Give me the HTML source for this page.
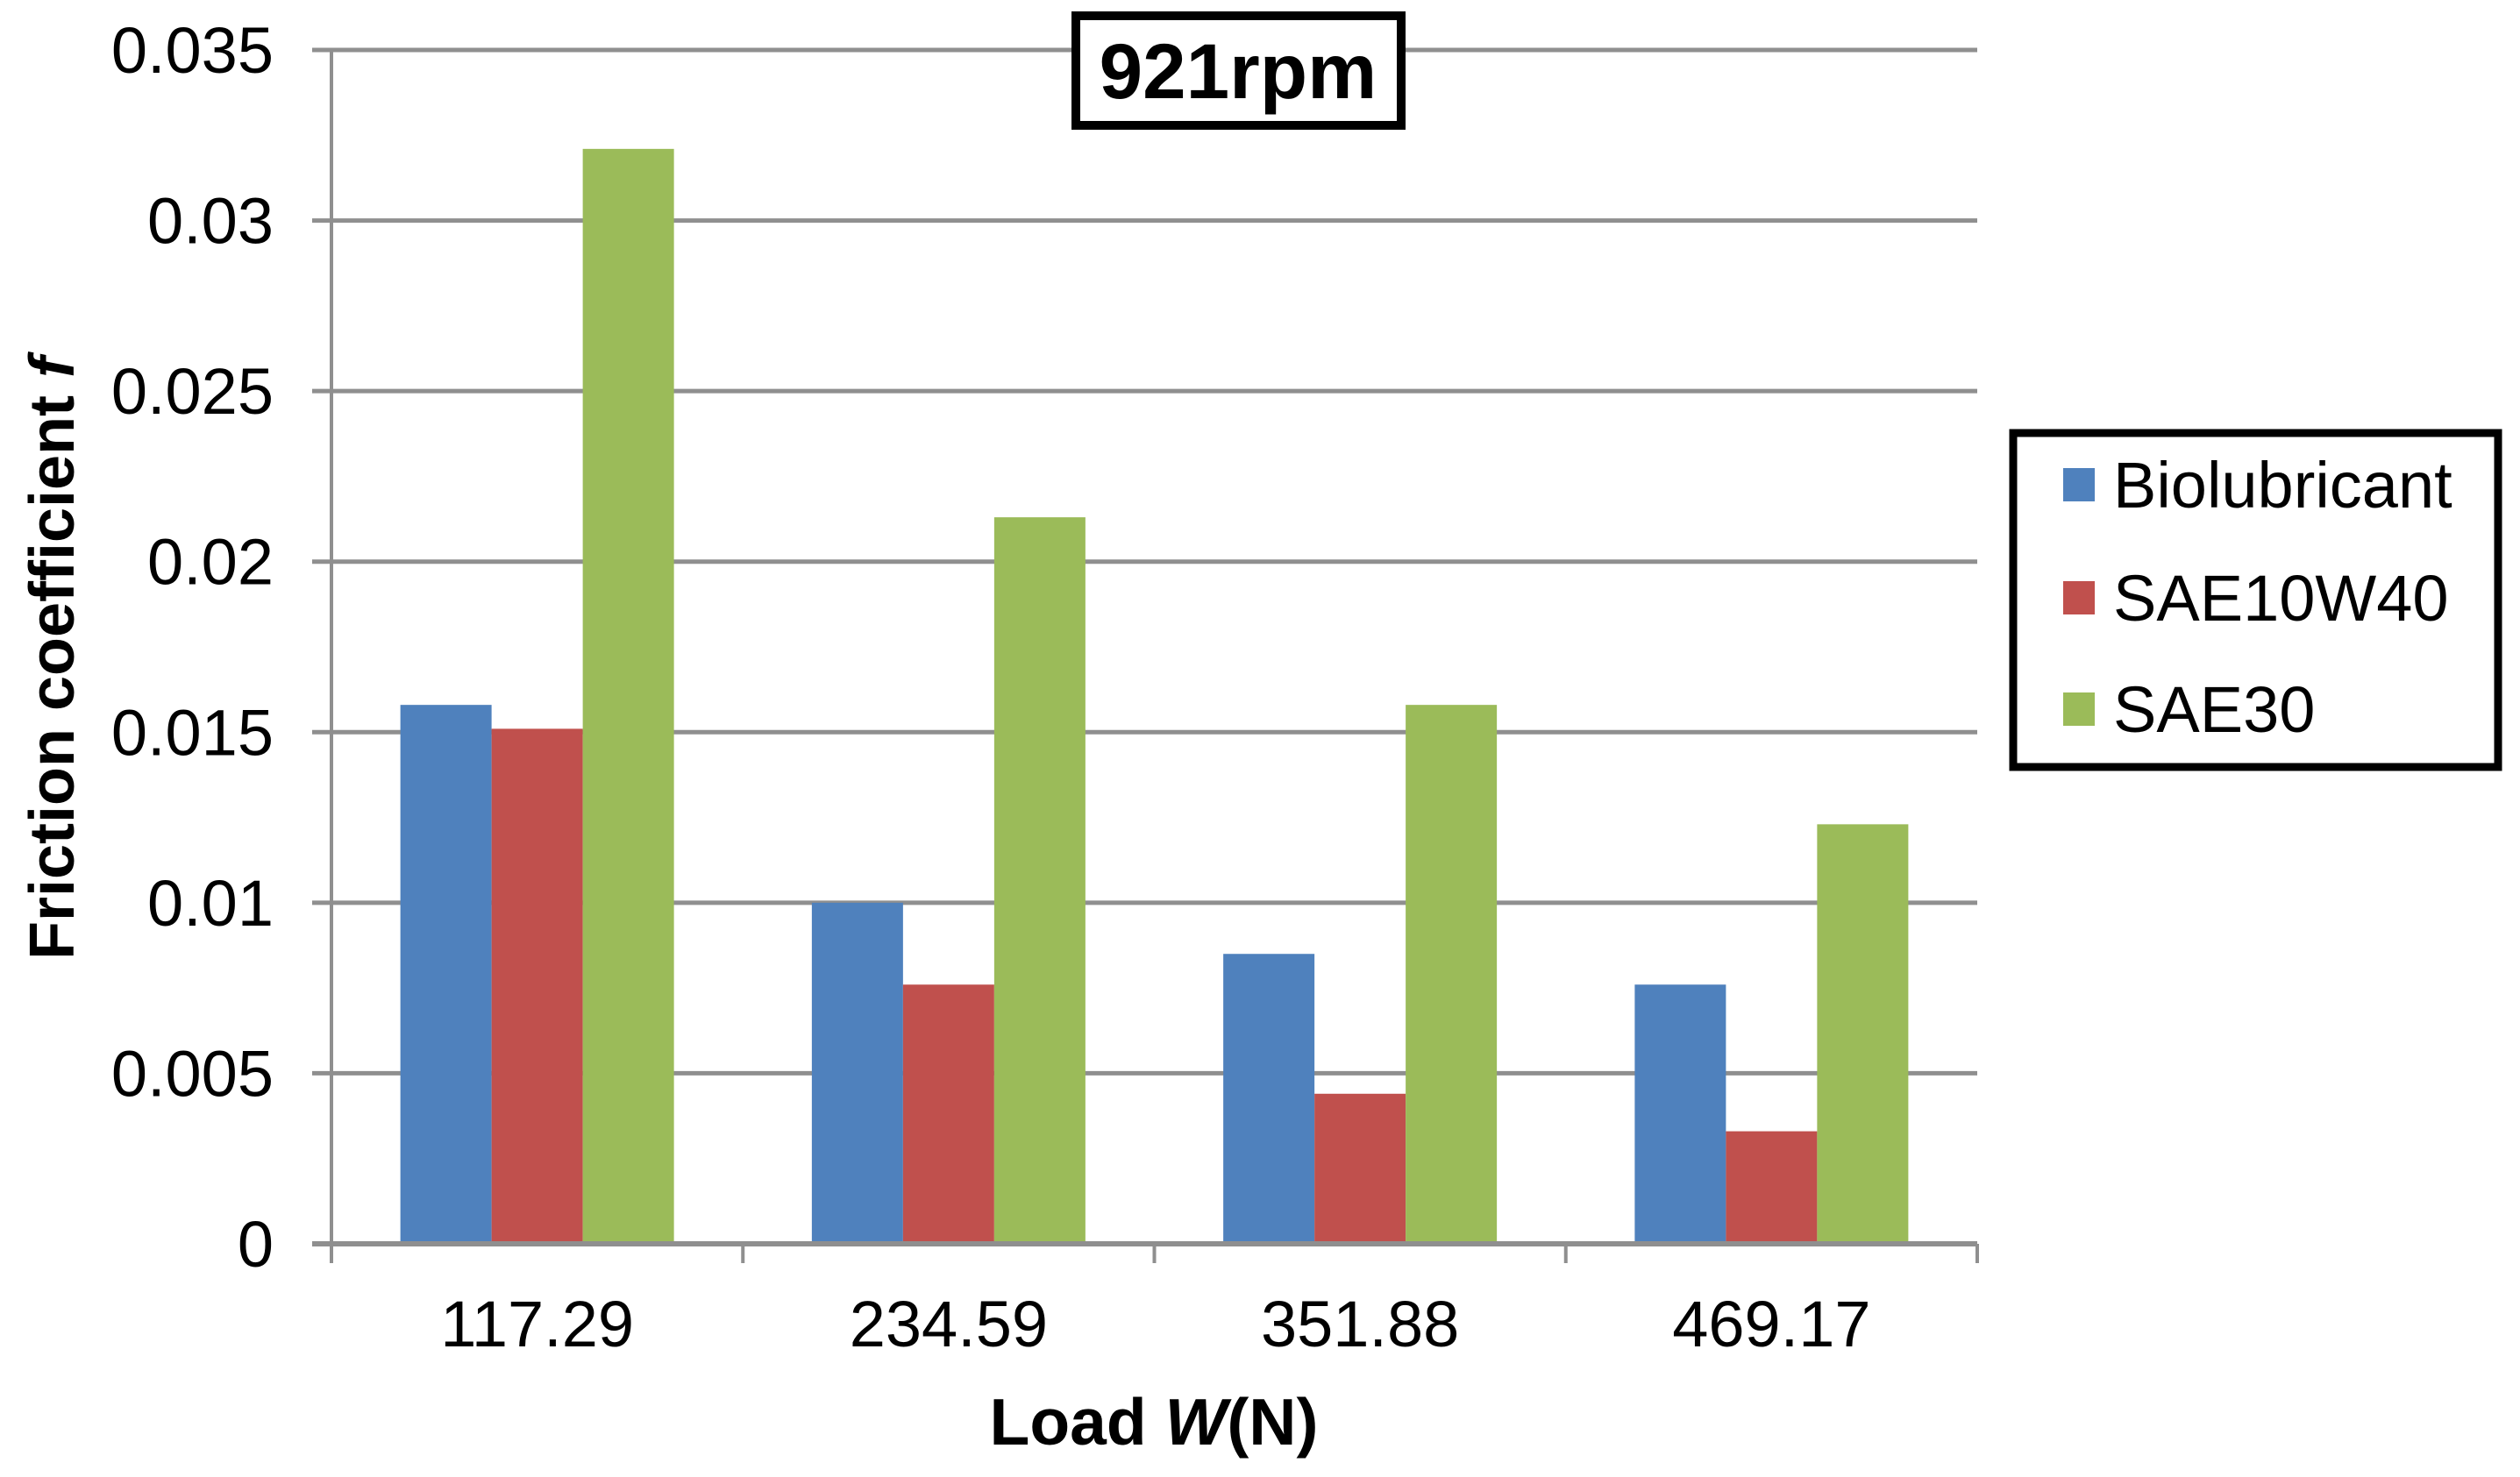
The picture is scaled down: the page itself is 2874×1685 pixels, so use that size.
<!DOCTYPE html>
<html><head><meta charset="utf-8"><style>
html,body{margin:0;padding:0;background:#fff;}
svg{display:block;font-family:"Liberation Sans",Arial,sans-serif;}
</style></head><body>
<svg id="chart" width="2874" height="1685" viewBox="0 0 2874 1685" xmlns="http://www.w3.org/2000/svg">
<rect x="0" y="0" width="2874" height="1685" fill="#fff"/>
<g id="grid"></g>
<g id="bars"></g>
<g id="axes"></g>
<g id="labels"></g>
<g>
<rect x="1227" y="18" width="371" height="125" fill="#fff" stroke="#000" stroke-width="10"/>
<text x="1412" y="112" font-size="89" font-weight="bold" text-anchor="middle">921rpm</text>
</g>
<text x="1316" y="1648" font-size="75" font-weight="bold" text-anchor="middle">Load <tspan font-style="italic">W</tspan>(N)</text>
<text transform="translate(84,751) rotate(-90)" font-size="72" font-weight="bold" text-anchor="middle">Friction coefficient <tspan font-style="italic">f</tspan></text>
<g>
<rect x="2296" y="494" width="553" height="381" fill="#fff" stroke="#000" stroke-width="9"/>
<g id="legend-items"></g>
</g>
</svg>
<script>
const categories = ["117.29","234.59","351.88","469.17"];
const seriesNames = ["Biolubricant","SAE10W40","SAE30"];
const biolubricant = [0.0158,0.0100,0.0085,0.0076];
const sae10w40 = [0.0151,0.0076,0.0044,0.0033];
const sae30 = [0.0321,0.0213,0.0158,0.0123];
const yTicks = [0,0.005,0.01,0.015,0.02,0.025,0.03,0.035];
const yTickLabels = ["0","0.005","0.01","0.015","0.02","0.025","0.03","0.035"];

const NS="http://www.w3.org/2000/svg";
const colors=["#4f81bd","#c0504d","#9bbb59"];
const series=[biolubricant,sae10w40,sae30];
const X0=378,X1=2255,Y0=1419,Y1=57,YMAX=0.035;
const catW=(X1-X0)/categories.length;
const barW=104;
function y(v){return Y0-(v/YMAX)*(Y0-Y1);}
function xCat(i){return X0+catW*i;}
function mk(tag,attrs,parent){const e=document.createElementNS(NS,tag);for(const k in attrs)e.setAttribute(k,attrs[k]);parent.appendChild(e);return e;}
const grid=document.getElementById('grid'),bars=document.getElementById('bars'),axes=document.getElementById('axes'),labels=document.getElementById('labels');
yTicks.forEach((t,i)=>{
  const l=mk('line',{x1:356,x2:X1,y1:y(t),y2:y(t),stroke:'#8f8f8f','stroke-width':5},grid);
  
  
  const tx=mk('text',{x:312,y:y(t)+26,'font-size':74,'text-anchor':'end'},labels);
  tx.textContent=yTickLabels[i];
  
  
});
categories.forEach((c,i)=>{
  const gx=xCat(i)+(catW-3*barW)/2;
  series.forEach((s,j)=>{
    const r=mk('rect',{x:gx+j*barW,y:y(s[i]),width:barW,height:Y0-y(s[i]),fill:colors[j]},bars);
    
    
  });
  const tx=mk('text',{x:xCat(i)+catW/2,y:1536,'font-size':74,'text-anchor':'middle'},labels);
  tx.textContent=c;
  
  
});
const ya=mk('line',{x1:X0,x2:X0,y1:Y1,y2:1441,stroke:'#8f8f8f','stroke-width':4},axes);


const xa=mk('line',{x1:356,x2:X1,y1:Y0,y2:Y0,stroke:'#8f8f8f','stroke-width':6},axes);


for(let i=0;i<=categories.length;i++){
  const tk=mk('line',{x1:xCat(i),x2:xCat(i),y1:Y0,y2:1441,stroke:'#8f8f8f','stroke-width':4},axes);
  
  
}
const leg=document.getElementById('legend-items');
const legY=[579,708,835];
seriesNames.forEach((n,j)=>{
  const sw=mk('rect',{x:2353,y:legY[j]-45,width:36,height:38,fill:colors[j]},leg);
  
  
  const t=mk('text',{x:2410,y:legY[j],'font-size':74},leg);
  t.textContent=n;
  
  
});
</script>
</body></html>
